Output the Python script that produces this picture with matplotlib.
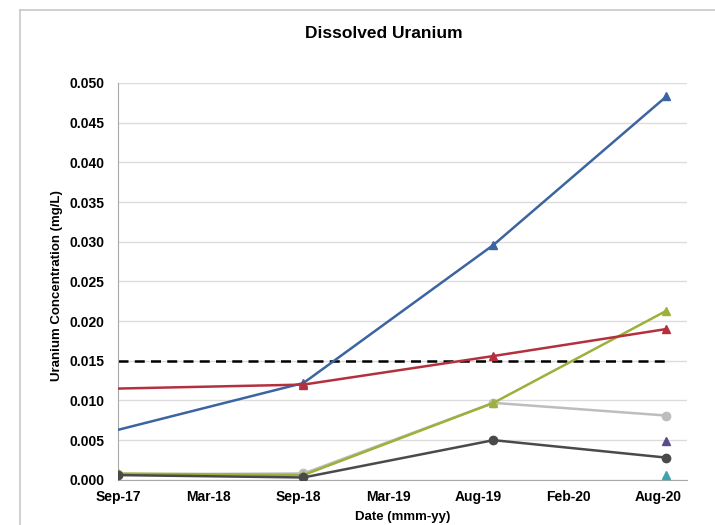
import matplotlib.pyplot as plt
from matplotlib.lines import Line2D

plt.rcParams['font.family'] = ['Liberation Sans', 'DejaVu Sans']

# x axis: tick labels every ~6 months, sample positions read in tick units
tick_labels = ['Sep-17', 'Mar-18', 'Sep-18', 'Mar-19', 'Aug-19', 'Feb-20', 'Aug-20']
sample_x = [0.0, 2.06, 4.17, 6.09]   # Sep-17, Sep-18, Aug-19, Aug-20

# concentrations (mg/L)
blue_u = [0.0063, 0.0122, 0.0296, 0.0483]
red_u = [0.0115, 0.0120, 0.0156, 0.0190]
olive_u = [0.0008, 0.0006, 0.0097, 0.0213]
lightgray_u = [0.0007, 0.0008, 0.0097, 0.0081]
darkgray_u = [0.0006, 0.0003, 0.0050, 0.0028]
purple_u = [0.0049]
teal_u = [0.0006]
guideline = 0.015

fig = plt.figure(figsize=(7.15, 5.25), dpi=100)
ax = fig.add_axes([0.165, 0.086, 0.796, 0.756])

# outer chart frame
fig.add_artist(Line2D([20/715, 20/715], [0, 1 - 10/525], color='#c8c8c8', lw=1.2))
fig.add_artist(Line2D([20/715, 1], [1 - 10/525, 1 - 10/525], color='#c8c8c8', lw=1.2))

ax.axhline(guideline, xmin=0, xmax=6.09/6.32, color='black', lw=1.8, ls=(0, (4, 2.5)), zorder=2)

ax.plot(sample_x, blue_u, color='#3c64a0', lw=1.8, marker='^', ms=6, markevery=[1, 2, 3], zorder=4)
ax.plot(sample_x, red_u, color='#b5303e', lw=1.8, marker='^', ms=6, markevery=[1, 2, 3], zorder=4)
ax.plot(sample_x, lightgray_u, color='#bdbdbd', lw=1.8, marker='o', ms=6, zorder=3)
ax.plot(sample_x, olive_u, color='#9bb13a', lw=1.8, marker='^', ms=6, zorder=3)
ax.plot(sample_x, darkgray_u, color='#4a4a4a', lw=1.8, marker='o', ms=6, zorder=3)
ax.plot(sample_x[-1:], purple_u, color='#5b4a8c', ls='none', marker='^', ms=6, zorder=4)
ax.plot(sample_x[-1:], teal_u, color='#3ea3ad', ls='none', marker='^', ms=6, zorder=4)

ax.set_xlim(0, 6.32)
ax.set_ylim(0, 0.050)
ax.set_xticks(range(len(tick_labels)))
ax.set_xticklabels(tick_labels, fontsize=10, fontweight='bold')
ax.set_yticks([i * 0.005 for i in range(11)])
ax.set_yticklabels([f'{i * 0.005:.3f}' for i in range(11)], fontsize=10, fontweight='bold')
ax.tick_params(axis='x', length=0, pad=7)
ax.tick_params(axis='y', length=0, pad=10)

ax.grid(axis='y', color='#dcdcdc', lw=1)
ax.set_axisbelow(True)
for s in ['top', 'right']:
    ax.spines[s].set_visible(False)
ax.spines['left'].set_color('#a8a8a8')
ax.spines['bottom'].set_color('#a8a8a8')

fig.text(384/715, 1 - 33/525, 'Dissolved Uranium', fontsize=12.5, fontweight='bold',
         ha='center', va='center')
ax.set_ylabel('Uranium Concentration (mg/L)', fontsize=9.5, fontweight='bold')
ax.yaxis.set_label_coords(-0.096, 0.49)
ax.set_xlabel('Date (mmm-yy)', fontsize=9.5, fontweight='bold')
ax.xaxis.set_label_coords(0.5, -0.078)

fig.savefig('out.png', dpi=100)
